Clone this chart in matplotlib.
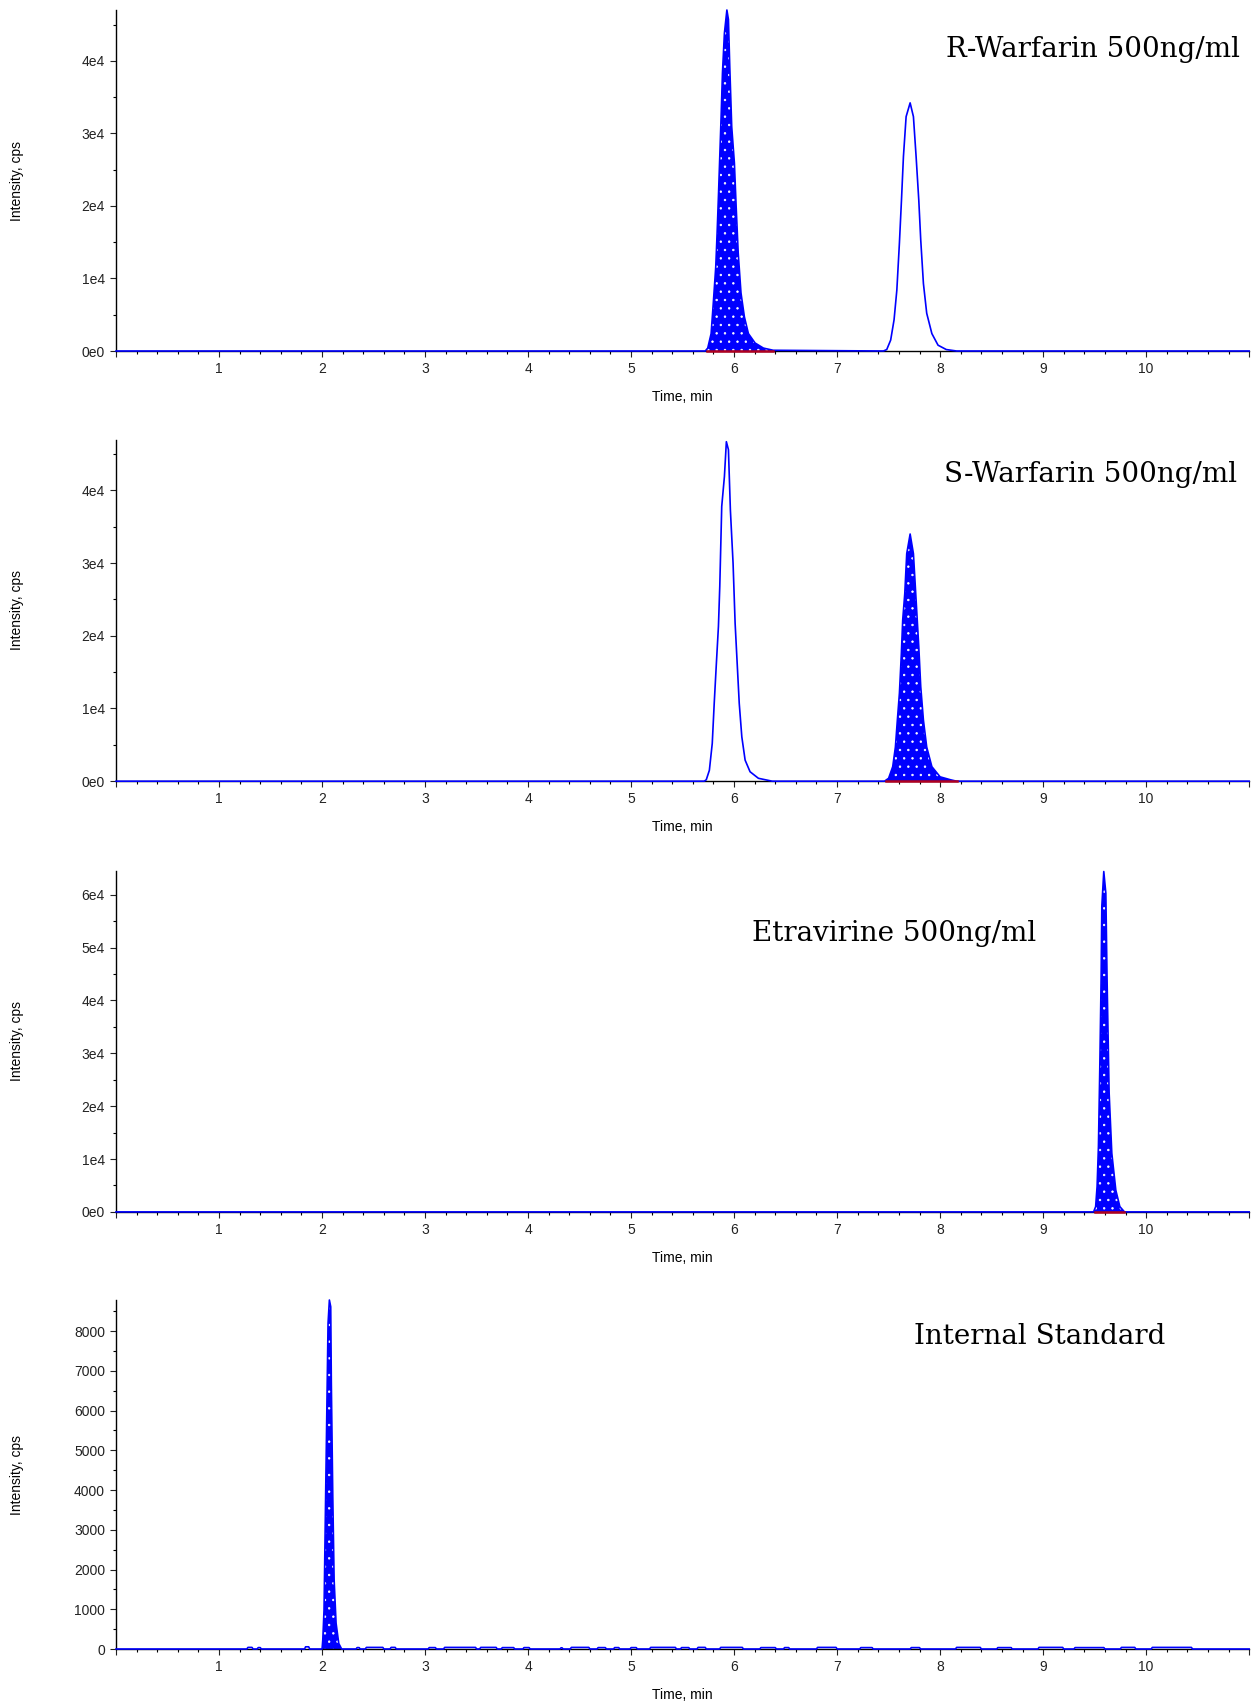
"""Four stacked LC-MS/MS chromatograms (R-/S-warfarin, etravirine, internal standard)."""
import matplotlib
matplotlib.use("Agg")
import matplotlib.pyplot as plt
from matplotlib.ticker import MultipleLocator, FuncFormatter

plt.rcParams["font.family"] = ["Liberation Sans", "DejaVu Sans"]
plt.rcParams["hatch.linewidth"] = 0.5

BLUE = "#0000ff"
RED = "#b00020"
X_MAX = 11.0

# ---- peaks (time, min / intensity, cps) ----
r_peak1_t = [5.72, 5.744, 5.777, 5.80, 5.822, 5.835, 5.848, 5.861, 5.874, 5.887, 5.906, 5.93,
             5.945, 5.958, 5.977, 6.003, 6.02, 6.04, 6.067, 6.10, 6.139, 6.204, 6.285, 6.38]
r_peak1_i = [0, 400, 2400, 7000, 11600, 16200, 21300, 26800, 32300, 38300, 43800, 47000,
             45700, 39200, 30900, 25900, 19900, 13500, 8000, 4700, 2400, 1100, 400, 100]
r_peak2_t = [7.45, 7.482, 7.52, 7.553, 7.58, 7.605, 7.625, 7.644, 7.67, 7.709,
             7.741, 7.767, 7.793, 7.812, 7.838, 7.87, 7.92, 7.98, 8.06, 8.16]
r_peak2_i = [0, 200, 1500, 4300, 8400, 14900, 20800, 26800, 32300, 34200,
             32300, 26800, 20800, 15300, 9300, 5200, 2400, 800, 200, 0]

s_peak1_t = [5.71, 5.73, 5.76, 5.788, 5.807, 5.828, 5.848, 5.861, 5.88, 5.906, 5.925,
             5.945, 5.964, 5.99, 6.01, 6.03, 6.05, 6.075, 6.107, 6.155, 6.236, 6.37]
s_peak1_i = [0, 200, 1500, 5200, 10700, 16200, 21300, 26800, 37800, 41900, 46700,
             45600, 37300, 30000, 21700, 16200, 10700, 6100, 2900, 1300, 400, 0]
s_peak2_t = [7.46, 7.50, 7.54, 7.566, 7.585, 7.605, 7.624, 7.637, 7.657, 7.676, 7.709,
             7.741, 7.767, 7.793, 7.812, 7.838, 7.87, 7.92, 8.0, 8.10, 8.16]
s_peak2_i = [0, 400, 2000, 4700, 8400, 12100, 17600, 22200, 25800, 31300, 34000,
             31300, 24900, 18500, 13000, 8400, 4700, 2000, 600, 200, 0]

etr_peak_t = [9.49, 9.51, 9.524, 9.537, 9.55, 9.563, 9.57, 9.589, 9.609, 9.621, 9.641,
              9.667, 9.706, 9.745, 9.79]
etr_peak_i = [0, 1000, 4800, 12300, 26900, 43900, 57800, 64400, 60300, 43900, 22500,
              11100, 4100, 1000, 0]

is_peak_t = [2.0, 2.007, 2.019, 2.032, 2.046, 2.058, 2.071, 2.084, 2.09, 2.104, 2.117,
             2.136, 2.162, 2.19]
is_peak_i = [0, 230, 980, 3330, 5840, 8190, 8780, 8610, 6680, 3830, 1740, 650, 140, 0]

# small baseline bumps in the internal-standard trace
is_noise_start = [1.27, 1.37, 1.83, 2.33, 2.42, 2.66, 3.03, 3.18, 3.53, 3.74, 3.95, 4.31,
                  4.41, 4.67, 4.83, 4.99, 5.18, 5.48, 5.64, 5.86, 6.25, 6.48, 6.80, 7.22,
                  7.71, 8.15, 8.55, 8.95, 9.30, 9.75, 10.05]
is_noise_end = [1.33, 1.41, 1.88, 2.37, 2.60, 2.72, 3.11, 3.50, 3.70, 3.87, 4.02, 4.34,
                4.60, 4.76, 4.89, 5.06, 5.44, 5.57, 5.73, 6.09, 6.41, 6.54, 7.00, 7.35,
                7.81, 8.40, 8.70, 9.20, 9.60, 9.90, 10.45]
is_noise_level = [40, 35, 55, 35, 40, 40, 35, 40, 40, 35, 35, 30,
                  40, 35, 35, 35, 40, 35, 40, 40, 35, 35, 40, 35,
                  35, 40, 35, 40, 35, 40, 40]

# integration baselines (start, end) for the filled peak of each panel
r_base = (5.735, 6.38)
s_base = (7.47, 8.16)
etr_base = (9.50, 9.79)

titles = ["R-Warfarin 500ng/ml", "S-Warfarin 500ng/ml", "Etravirine 500ng/ml",
          "Internal Standard"]
y_max = [4.7e4, 4.7e4, 6.45e4, 8780]


def trace(peaks, noise=()):
    """Assemble a full chromatogram from zero baseline, bumps and peaks."""
    pts = [(0.0, 0.0)]
    for s, e, lvl in noise:
        pts += [(s, 0), (s + 0.01, lvl), (e - 0.01, lvl), (e, 0)]
    for t, i in peaks:
        pts += list(zip(t, i))
    pts.sort(key=lambda p: p[0])
    pts.append((X_MAX, 0.0))
    return [p[0] for p in pts], [p[1] for p in pts]


def e4(v, _):
    return "0e0" if v == 0 else f"{v / 1e4:.0f}e4"


fig = plt.figure(figsize=(12.52, 17.01), dpi=100)
rects = [[0.0927, 0.79365, 0.9050, 0.20047],
         [0.0927, 0.54074, 0.9050, 0.20088],
         [0.0927, 0.28754, 0.9050, 0.20041],
         [0.0927, 0.03057, 0.9050, 0.20517]]
axes = [fig.add_axes(r) for r in rects]

panels = [
    dict(filled=(r_peak1_t, r_peak1_i), open=[(r_peak2_t, r_peak2_i)], base=r_base, noise=()),
    dict(filled=(s_peak2_t, s_peak2_i), open=[(s_peak1_t, s_peak1_i)], base=s_base, noise=()),
    dict(filled=(etr_peak_t, etr_peak_i), open=[], base=etr_base, noise=()),
    dict(filled=(is_peak_t, is_peak_i), open=[], base=None,
         noise=list(zip(is_noise_start, is_noise_end, is_noise_level))),
]
title_pos = [(0.992, 0.883), (0.989, 0.899), (0.812, 0.818), (0.926, 0.894)]

for k, (ax, p) in enumerate(zip(axes, panels)):
    ft, fi = p["filled"]
    ax.fill_between(ft, 0, fi, facecolor=BLUE, edgecolor="white", hatch="..",
                    linewidth=0, zorder=2)
    t, i = trace([p["filled"]] + p["open"], p["noise"])
    ax.plot(t, i, color=BLUE, lw=1.2, zorder=3, clip_on=False)
    if p["base"]:
        ax.plot(p["base"], [0, 0], color=RED, lw=1.8, zorder=4, clip_on=False)

    ax.set_xlim(0, X_MAX)
    ax.set_ylim(0, y_max[k])
    for side in ("top", "right"):
        ax.spines[side].set_visible(False)
    ax.spines["left"].set_linewidth(1.0)
    ax.spines["bottom"].set_linewidth(1.0)
    ax.xaxis.set_major_locator(MultipleLocator(1))
    ax.xaxis.set_minor_locator(MultipleLocator(0.2))
    ax.xaxis.set_major_formatter(FuncFormatter(lambda v, _: f"{v:.0f}" if 1 <= v <= 10 else ""))
    if k < 3:
        ax.yaxis.set_major_locator(MultipleLocator(1e4))
        ax.yaxis.set_minor_locator(MultipleLocator(5e3))
        ax.yaxis.set_major_formatter(FuncFormatter(e4))
    else:
        ax.yaxis.set_major_locator(MultipleLocator(1000))
        ax.yaxis.set_minor_locator(MultipleLocator(500))
    ax.tick_params(which="major", direction="out", length=4, width=0.8, labelsize=10,
                   pad=4, colors="#222222")
    ax.tick_params(which="minor", direction="out", length=2.5, width=0.8)
    ax.set_xlabel("Time, min", fontsize=10, labelpad=10)
    ax.set_ylabel("Intensity, cps", fontsize=10)
    ax.yaxis.set_label_coords(-0.081, 0.5)
    ax.text(*title_pos[k], titles[k], transform=ax.transAxes, ha="right", va="center",
            fontsize=20, family=["DejaVu Serif"])

fig.savefig("out.png", dpi=100)
